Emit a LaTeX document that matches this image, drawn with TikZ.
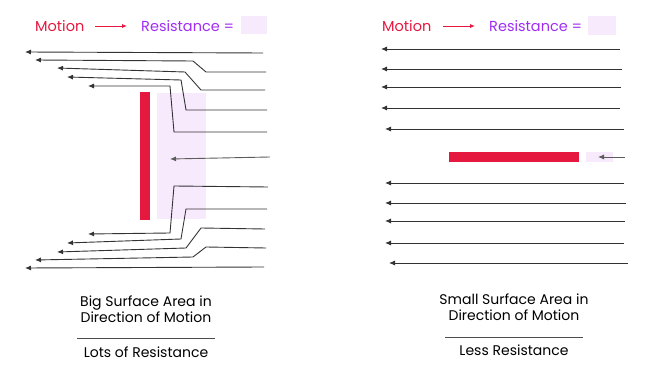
\documentclass[tikz,border=0pt]{standalone}
\usepackage{fontspec}
\setmainfont{Poppins}
\usetikzlibrary{arrows.meta}
\definecolor{motionred}{HTML}{E5193F}
\definecolor{resviolet}{HTML}{A02DF2}
\definecolor{respink}{HTML}{F8EAFD}
\definecolor{flowgray}{HTML}{333333}
\tikzset{
  flow/.style={draw=flowgray, line width=0.9pt, -{Latex[length=6pt,width=5pt]}},
  keytext/.style={font=\fontsize{14.5}{16}\selectfont, inner sep=0pt, anchor=west},
  caption/.style={font=\fontsize{14}{16}\selectfont, align=center, inner sep=0pt},
}
\begin{document}
\begin{tikzpicture}[x=1pt,y=-1pt]
\useasboundingbox (0,0) rectangle (659,379);
% legend, left
\node[keytext, text=motionred] (motionL) at (35,26) {Motion};
\coordinate (mlA) at (95,26);
\coordinate (mlB) at (127,26);
\draw[motionred, line width=0.8pt, -{Latex[length=5pt,width=4pt]}] (mlA) -- (mlB);
\node[keytext, text=resviolet] (resL) at (141,26) {Resistance =};
\fill[respink] (241,16) rectangle (267,34);
% legend, right
\node[keytext, text=motionred] (motionR) at (382,26) {Motion};
\coordinate (mrA) at (443,26);
\coordinate (mrB) at (475,26);
\draw[motionred, line width=0.8pt, -{Latex[length=5pt,width=4pt]}] (mrA) -- (mrB);
\node[keytext, text=resviolet] (resR) at (489,26) {Resistance =};
\fill[respink] (588,16) rectangle (616,35);

% big surface: wake and plate
\fill[respink] (157,93) rectangle (206,219);
\fill[motionred] (140,92) rectangle (150,220);
\draw[flow] (263,53) -- (25,52);
\draw[flow] (266,72) -- (206,72) -- (193,61) -- (35,60);
\draw[flow] (265,90) -- (201,90) -- (185,72) -- (57,68);
\draw[flow] (267,110) -- (186,110) -- (181,80) -- (67,77);
\draw[flow] (267,132) -- (174,132) -- (170,86) -- (88,86);
\draw[flow, draw=flowgray!80] (270,157) -- (170,159);
\draw[flow] (268,187) -- (174,186) -- (170,233) -- (88,234);
\draw[flow] (267,209) -- (186,209) -- (181,239) -- (67,243);
\draw[flow] (265,229) -- (201,228) -- (186,248) -- (57,252);
\draw[flow] (266,248) -- (206,247) -- (193,257) -- (35,260);
\draw[flow] (264,267) -- (25,268);

% small surface: plate edge-on
\fill[motionred] (449,152) rectangle (579,162);
\fill[respink] (586,152) rectangle (613,162);
\draw[flow, draw=flowgray!80] (625,157) -- (598,157);
\foreach \y/\xa/\xb in {49/620/381, 69/622/381, 87/621/381, 108/620/381, 129/624/385,
                        183/624/385, 203/626/385, 221/625/385, 243/624/385, 263/628/389}
  \draw[flow] (\xa,\y) -- (\xb,\y);

% captions
\node[caption] (bigcap) at (146,309) {Big Surface Area in\\Direction of Motion};
\draw[black!70, line width=0.5pt] (77,338) -- (215,338);
\node[caption] (bigres) at (146,352) {Lots of Resistance};
\node[caption] (smallcap) at (514,307) {Small Surface Area in\\Direction of Motion};
\draw[black!70, line width=0.5pt] (445,337) -- (583,337);
\node[caption] (smallres) at (514,350) {Less Resistance};
\end{tikzpicture}
\end{document}
